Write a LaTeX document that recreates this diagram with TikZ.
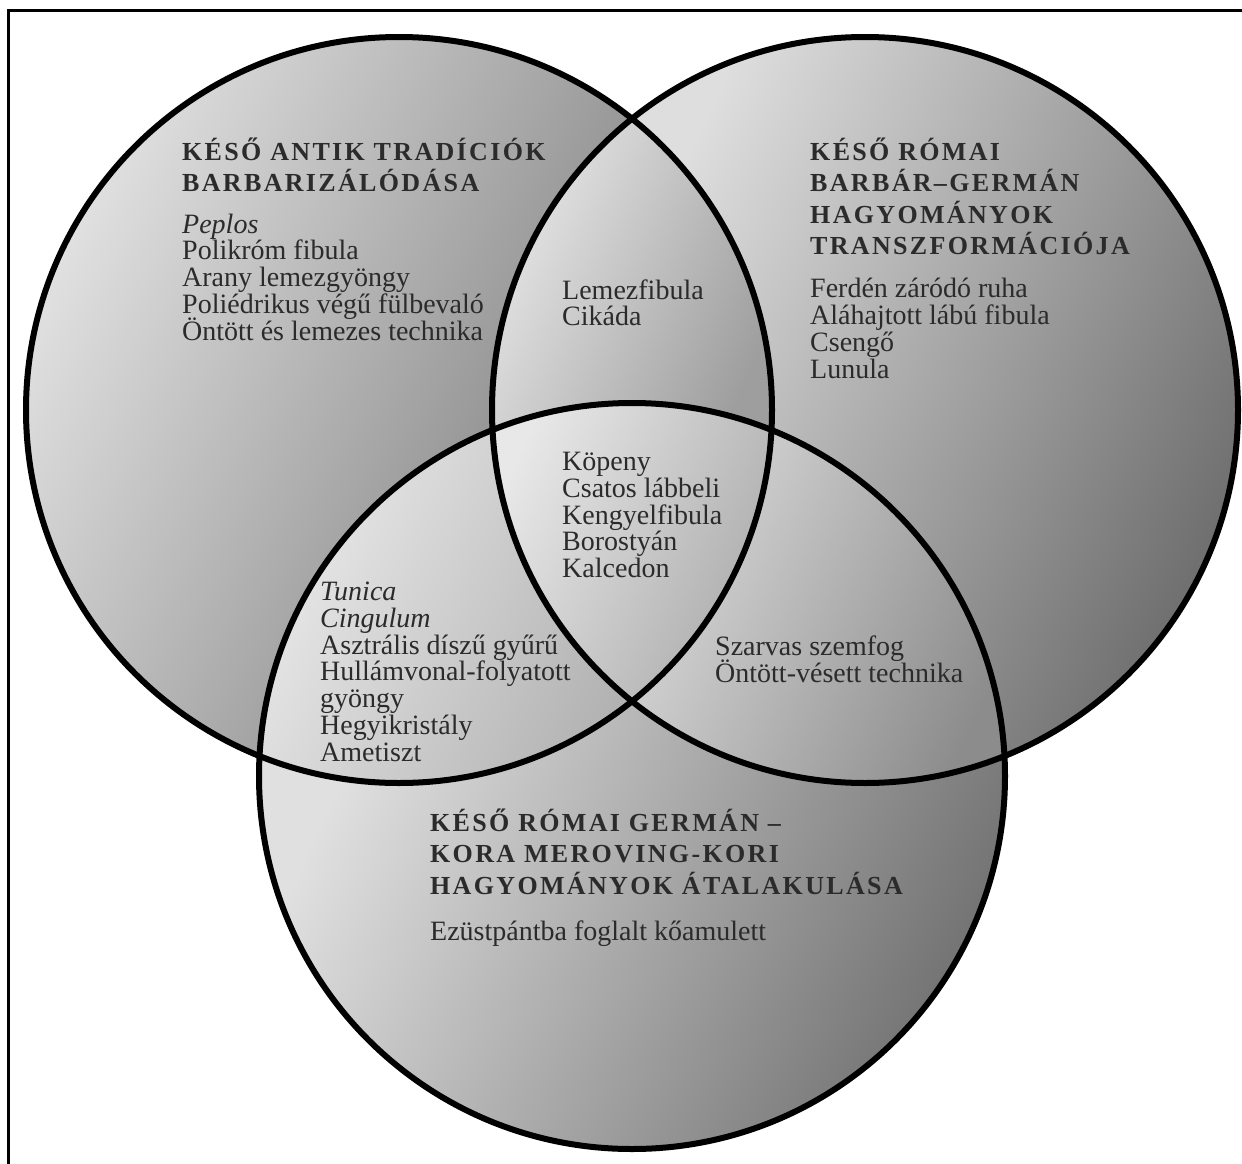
\documentclass[tikz,border=0pt]{standalone}
\usepackage{fontspec}
\setmainfont{Liberation Serif}
\newfontfamily\headfont{Liberation Serif}[LetterSpace=9]
\definecolor{ink}{HTML}{2B2B2B}

\begin{document}
\begin{tikzpicture}[x=1pt,y=-1pt,
  zone/.style 2 args={top color=#1,bottom color=#2,shading angle=65},
  rim/.style={line width=6pt},
  head/.style={anchor=base west,inner sep=0pt,align=left,text=ink,
    font={\headfont\bfseries\fontsize{26}{31.5}\selectfont\lineskiplimit=-100pt}},
  item/.style={anchor=base west,inner sep=0pt,align=left,text=ink,
    font={\fontsize{28}{26.7}\selectfont\lineskiplimit=-100pt}}]
          \useasboundingbox (0,0) rectangle (1242,1164);
          \fill[white] (0,0) rectangle (1242,1164);
          \coordinate (cl) at (399,410);
          \coordinate (cr) at (865,410);
          \coordinate (cb) at (632,776);
          % single circles
          \begin{scope}
            \clip (cl) circle[radius=373pt];
            \shade[zone={black!11}{black!52}] (25,35) rectangle (640,790);
          \end{scope}
          \begin{scope}
            \clip (cr) circle[radius=373pt];
            \shade[zone={black!13}{black!58}] (624,35) rectangle (1242,790);
          \end{scope}
          \begin{scope}
            \clip (cb) circle[radius=373pt];
            \shade[zone={black!12}{black!56}] (255,700) rectangle (1010,1152);
          \end{scope}
          % overlaps
          \begin{scope}
            \clip (cl) circle[radius=373pt];
            \clip (cr) circle[radius=373pt];
            \shade[zone={black!9}{black!38}] (490,115) rectangle (775,434);
          \end{scope}
          \begin{scope}
            \clip (cl) circle[radius=373pt];
            \clip (cb) circle[radius=373pt];
            \shade[zone={black!8}{black!30}] (255,427) rectangle (640,790);
          \end{scope}
          \begin{scope}
            \clip (cr) circle[radius=373pt];
            \clip (cb) circle[radius=373pt];
            \shade[zone={black!14}{black!45}] (624,427) rectangle (1010,790);
          \end{scope}
          \begin{scope}
            \clip (cl) circle[radius=373pt];
            \clip (cr) circle[radius=373pt];
            \clip (cb) circle[radius=373pt];
            \shade[zone={black!9}{black!33}] (490,400) rectangle (775,704);
          \end{scope}
          \draw[rim] (cl) circle[radius=373pt];
          \draw[rim] (cr) circle[radius=373pt];
          \draw[rim] (cb) circle[radius=373pt];
          \draw[line width=3pt] (8.5,1164) -- (8.5,10.5) -- (1242,10.5);
          % texts (placed at the baseline of their last line)
          \node[head] (anticHead) at (182,191.5)
            {KÉSŐ ANTIK TRADÍCIÓK\\BARBARIZÁLÓDÁSA};
          \node[item] (anticList) at (182,340)
            {\textit{Peplos}\\Polikróm fibula\\Arany lemezgyöngy\\
             Poliédrikus végű fülbevaló\\Öntött és lemezes technika};
          \node[head] (romanHead) at (810,254.5)
            {KÉSŐ RÓMAI\\BARBÁR–GERMÁN\\HAGYOMÁNYOK\\TRANSZFORMÁCIÓJA};
          \node[item] (romanList) at (810,378)
            {Ferdén záródó ruha\\Aláhajtott lábú fibula\\Csengő\\Lunula};
          \node[item] (lrList) at (562,325.7) {Lemezfibula\\Cikáda};
          \node[item] (coreList) at (562,577.5)
            {Köpeny\\Csatos lábbeli\\Kengyelfibula\\Borostyán\\Kalcedon};
          \node[item] (lbList) at (320,761)
            {\textit{Tunica}\\\textit{Cingulum}\\Asztrális díszű gyűrű\\
             Hullámvonal-folyatott\\gyöngy\\Hegyikristály\\Ametiszt};
          \node[item] (rbList) at (715,682)
            {Szarvas szemfog\\Öntött-vésett technika};
          \node[head] (germanHead) at (430,894)
            {KÉSŐ RÓMAI GERMÁN –\\KORA MEROVING-KORI\\HAGYOMÁNYOK ÁTALAKULÁSA};
          \node[item] (germanList) at (430,940)
            {Ezüstpántba foglalt kőamulett};
        \end{tikzpicture}
\end{document}
